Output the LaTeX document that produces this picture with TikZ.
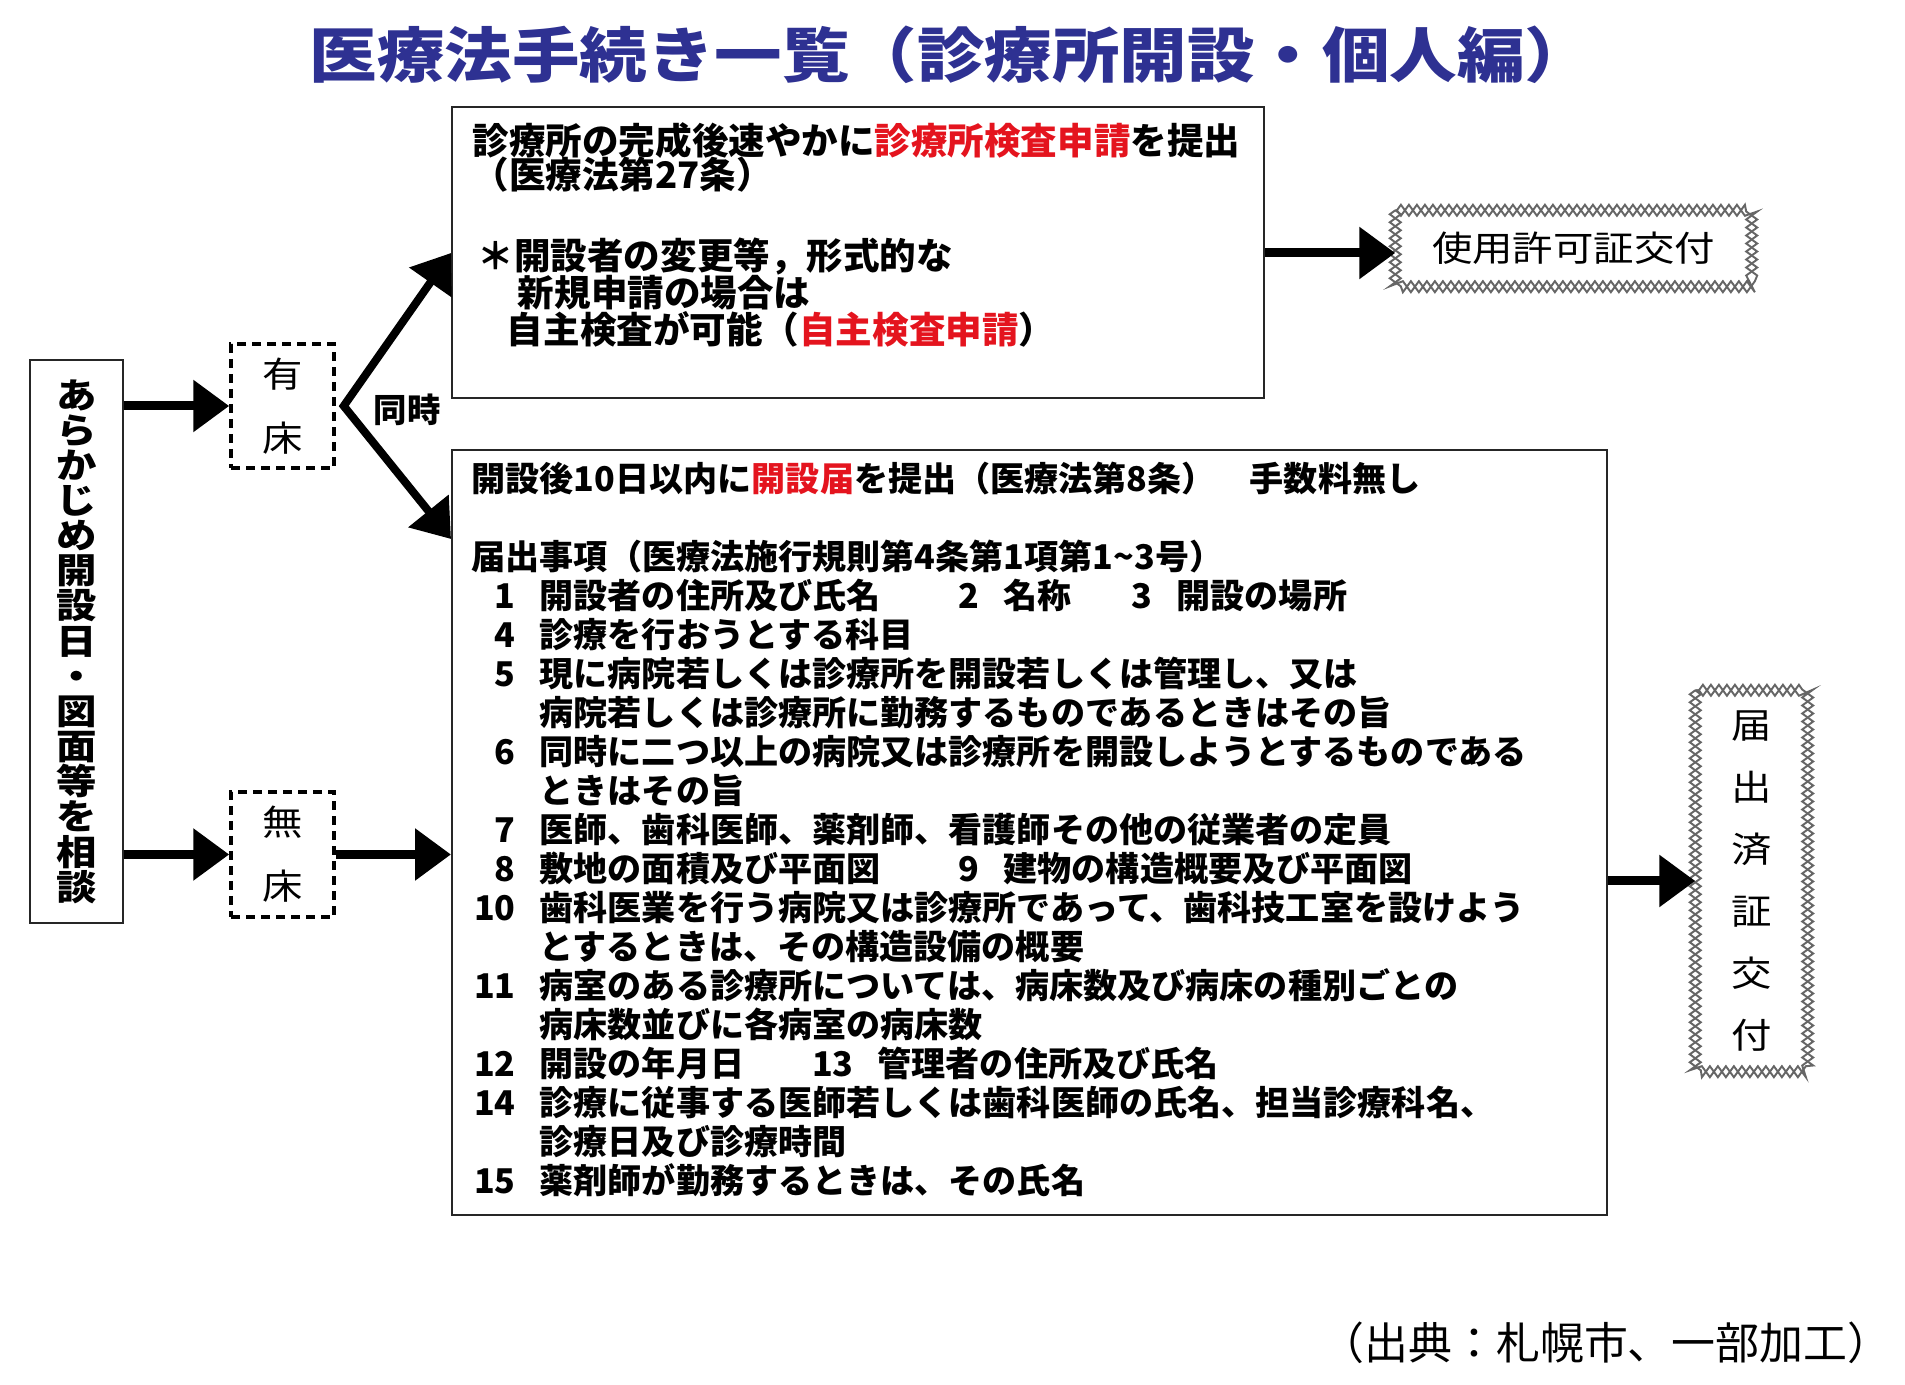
\documentclass[tikz,border=0pt]{standalone}
\usepackage{fontspec}
\usepackage{tikz}
\usetikzlibrary{positioning,arrows.meta,calc,decorations.pathmorphing}

\newfontfamily\jp{Noto Sans CJK JP}
\newfontfamily\jpw{Noto Sans CJK JP}[FakeStretch=1.15]
\newfontfamily\jpt{Noto Sans CJK JP}[FakeStretch=1.13]
\definecolor{titleblue}{RGB}{46,49,146}
\definecolor{akared}{RGB}{228,20,30}
\newcommand\aka[1]{\textcolor{akared}{#1}}
\newcommand\nbr[1]{\makebox[4.4mm][r]{#1}\hspace*{2.4mm}}
\newcommand\cont{\hspace*{6.8mm}}
\setlength{\lineskiplimit}{-10pt}

\begin{document}
\begin{tikzpicture}[x=0.1mm,y=-0.1mm,
  box/.style={draw=black!85,line width=0.2mm,inner sep=0},
  dashbox/.style={draw,line width=0.35mm,dash pattern=on 0.9mm off 0.6mm,inner sep=0,align=center},
  txt/.style={inner sep=0,align=left,anchor=north west},
  fat/.style={line width=0.9mm,-{Triangle[length=3.6mm,width=5mm]}}]
  \useasboundingbox (0,0) rectangle (1905,1385);
  % title
  \node[inner sep=0,text=titleblue,font=\jpt\bfseries\fontsize{17pt}{20pt}\selectfont] (title) at (951,55)
    {医療法手続き一覧（診療所開設・個人編）};
  % left column
  \node[box,minimum width=9.3mm,minimum height=56.3mm,align=center,
        font=\jpw\bfseries\fontsize{10pt}{10pt}\selectfont] (soudan) at (76.5,641.5)
    {あ\\ら\\か\\じ\\め\\開\\設\\日\\・\\図\\面\\等\\を\\相\\談};
  \node[dashbox,minimum width=10.3mm,minimum height=12.4mm,
        font=\jpw\fontsize{10pt}{18.2pt}\selectfont] (yusho) at (282.5,406) {有\\床};
  \node[dashbox,minimum width=10.3mm,minimum height=12.5mm,
        font=\jpw\fontsize{10pt}{18.2pt}\selectfont] (musho) at (282.5,854.5) {無\\床};
  \node[inner sep=0,font=\jp\bfseries\fontsize{9.5pt}{10pt}\selectfont] (doji) at (407,410) {同時};
  % upper box
  \node[box,minimum width=81.2mm,minimum height=29.1mm] (kensa) at (858,253) {};
  \node[txt,font=\jp\bfseries\fontsize{10.4pt}{9.7pt}\selectfont] (kensa1) at (472,122)
    {診療所の完成後速やかに\aka{診療所検査申請}を提出\\（医療法第27条）};
  \node[txt,font=\jp\bfseries\fontsize{10.4pt}{10.5pt}\selectfont] (kensa2) at (477,237)
    {＊開設者の変更等，形式的な\\\hspace*{1.1em}新規申請の場合は\\\hspace*{0.8em}自主検査が可能（\aka{自主検査申請}）};
  % lower box
  \node[box,minimum width=115.5mm,minimum height=76.5mm] (todoke) at (1029.5,832.5) {};
  \node[txt,font=\jp\bfseries\fontsize{9.7pt}{11.1pt}\selectfont] (koumoku) at (471,461) {%
    開設後10日以内に\aka{開設届}を提出（医療法第8条）　手数料無し\\
    \mbox{}\\
    届出事項（医療法施行規則第4条第1項第1\textasciitilde 3号）\\
    \nbr{1}\makebox[39.6mm][l]{開設者の住所及び氏名}\nbr{2}\makebox[10.5mm][l]{名称}\nbr{3}開設の場所\\
    \nbr{4}診療を行おうとする科目\\
    \nbr{5}現に病院若しくは診療所を開設若しくは管理し、又は\\
    \cont 病院若しくは診療所に勤務するものであるときはその旨\\
    \nbr{6}同時に二つ以上の病院又は診療所を開設しようとするものである\\
    \cont ときはその旨\\
    \nbr{7}医師、歯科医師、薬剤師、看護師その他の従業者の定員\\
    \nbr{8}\makebox[39.6mm][l]{敷地の面積及び平面図}\nbr{9}建物の構造概要及び平面図\\
    \nbr{10}歯科医業を行う病院又は診療所であって、歯科技工室を設けよう\\
    \cont とするときは、その構造設備の概要\\
    \nbr{11}病室のある診療所については、病床数及び病床の種別ごとの\\
    \cont 病床数並びに各病室の病床数\\
    \nbr{12}\makebox[27mm][l]{開設の年月日}\nbr{13}管理者の住所及び氏名\\
    \nbr{14}診療に従事する医師若しくは歯科医師の氏名、担当診療科名、\\
    \cont 診療日及び診療時間\\
    \nbr{15}薬剤師が勤務するときは、その氏名};
  % results
  \node[inner sep=0,minimum width=35.5mm,minimum height=7.5mm,
        font=\jpw\fontsize{10pt}{10pt}\selectfont] (shiyo) at (1573.5,248.5) {使用許可証交付};
  \node[inner sep=0,minimum width=11.1mm,minimum height=38mm,align=center,
        font=\jpw\fontsize{10pt}{17.6pt}\selectfont] (zumi) at (1751.5,881) {届\\出\\済\\証\\交\\付};
  \foreach \n in {shiyo,zumi}
    \foreach \m in {false,true}
      \draw[gray!80!black,line width=0.55pt,decorate,
            decoration={zigzag,amplitude=0.55mm,segment length=1.6mm,mirror=\m}]
        (\n.north west) rectangle (\n.south east);
  % arrows
  \draw[fat] (soudan.east |- yusho.west) -- (yusho.west);
  \draw[fat] (soudan.east |- musho.west) -- (musho.west);
  \draw[fat] (musho.east) -- (musho.east -| todoke.west);
  \coordinate (fork) at ([xshift=0.8mm]yusho.east);
  \draw[line width=0.8mm,line join=miter,
        {Triangle[length=3.6mm,width=5mm]}-{Triangle[length=3.6mm,width=5mm]}]
    ($(todoke.north west)+(0,90)$) -- (fork) -- (kensa.west);
  \draw[fat] (kensa.east) -- (kensa.east -| shiyo.west);
  \draw[fat] (zumi.west -| todoke.east) -- (zumi.west);
  % source
  \node[inner sep=0,font=\jp\fontsize{12.5pt}{14pt}\selectfont] (shutten) at (1606,1343)
    {（出典：札幌市、一部加工）};
\end{tikzpicture}
\end{document}
